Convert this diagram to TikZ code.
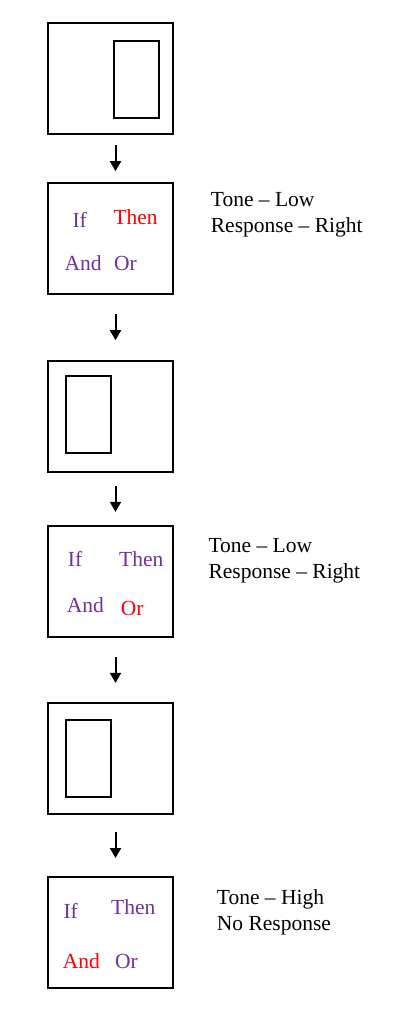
\documentclass[tikz,border=0pt]{standalone}
\usepackage{fontspec}
\setmainfont{Liberation Serif}
\usetikzlibrary{arrows.meta,calc}
\definecolor{ppl}{RGB}{112,48,160}
\definecolor{rd}{RGB}{255,0,0}
\begin{document}
\begin{tikzpicture}[x=1pt,y=-1pt,
  box/.style={draw,line width=2pt,minimum width=125pt,minimum height=111pt,inner sep=0pt},
  bar/.style={draw,line width=2pt,minimum width=45pt,minimum height=77pt,inner sep=0pt},
  arr/.style={line width=2pt,-{Triangle[length=10pt,width=11pt]}},
  txt/.style={anchor=base west,inner sep=0pt,font=\fontsize{21.5}{26}\selectfont},
  pw/.style={txt,text=ppl},
  rw/.style={txt,text=rd},
  bw/.style={txt,text=black}]
\useasboundingbox[fill=white] (0,0) rectangle (410,1012);
% boxes
\node[box] (b1) at (110,78) {};
\node[box] (b2) at (110,238.3) {};
\node[box] (b3) at (110,416) {};
\node[box] (b4) at (110,581.7) {};
\node[box] (b5) at (110,758) {};
\node[box] (b6) at (110,932) {};
% inner bars
\node[bar] (r1) at (136,79) {};
\node[bar] (r3) at (88,414.8) {};
\node[bar] (r5) at (88,758.8) {};
% arrow midpoints
\coordinate (m1) at ($(b1.south)!0.5!(b2.north)$);
\coordinate (m2) at ($(b2.south)!0.5!(b3.north)$);
\coordinate (m3) at ($(b3.south)!0.5!(b4.north)$);
\coordinate (m4) at ($(b4.south)!0.5!(b5.north)$);
\coordinate (m5) at ($(b5.south)!0.5!(b6.north)$);
\foreach \m in {m1,m2,m3,m4,m5}
  \draw[arr] ([shift={(5.5,-13)}]\m) -- ([shift={(5.5,13)}]\m);
% box 2 words
\node[pw] (if2) at (72.3,227) {If};
\node[rw] (th2) at (113.3,224.3) {Then};
\node[pw] (an2) at (64.3,270.7) {And};
\node[pw] (or2) at (114,270.7) {Or};
\node[bw] (t2a) at (210.7,206) {Tone – Low};
\node[bw] (t2b) at (210.7,232.7) {Response – Right};
% box 4 words
\node[pw] (if4) at (67.7,566.7) {If};
\node[pw] (th4) at (119,566.7) {Then};
\node[pw] (an4) at (66.7,612.3) {And};
\node[rw] (or4) at (120.7,615) {Or};
\node[bw] (t4a) at (208.3,552.3) {Tone – Low};
\node[bw] (t4b) at (208.3,578.3) {Response – Right};
% box 6 words
\node[pw] (if6) at (63.3,918.3) {If};
\node[pw] (th6) at (111,914.3) {Then};
\node[rw] (an6) at (62.7,968.3) {And};
\node[pw] (or6) at (115,968.3) {Or};
\node[bw] (t6a) at (216.7,904.3) {Tone – High};
\node[bw] (t6b) at (216.7,930) {No Response};
\end{tikzpicture}
\end{document}
